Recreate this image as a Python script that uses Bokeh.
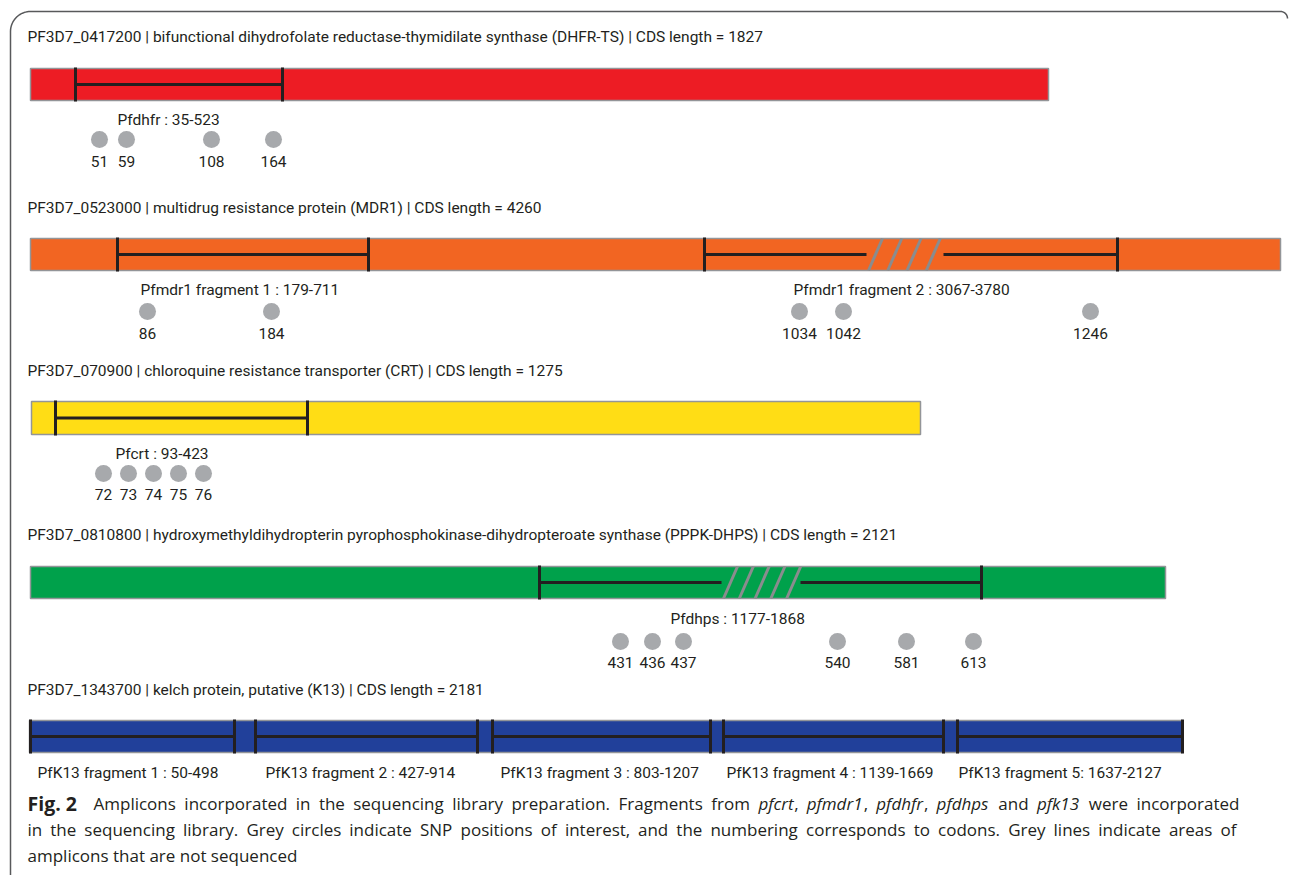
import numpy as np
from bokeh.plotting import figure
from bokeh.models import Range1d
from bokeh.core.properties import value
from bokeh.embed import file_html
from bokeh.resources import INLINE

# ---------------- data ----------------
gene_ids = ["PF3D7_0417200", "PF3D7_0523000", "PF3D7_070900", "PF3D7_0810800", "PF3D7_1343700"]
gene_names = [
    "bifunctional dihydrofolate reductase-thymidilate synthase (DHFR-TS)",
    "multidrug resistance protein (MDR1)",
    "chloroquine resistance transporter (CRT)",
    "hydroxymethyldihydropterin pyrophosphokinase-dihydropteroate synthase (PPPK-DHPS)",
    "kelch protein, putative (K13)",
]
cds_lengths = [1827, 4260, 1275, 2121, 2181]

frag_gene = [0, 1, 1, 2, 3, 4, 4, 4, 4, 4]
frag_names = ["Pfdhfr", "Pfmdr1 fragment 1", "Pfmdr1 fragment 2", "Pfcrt", "Pfdhps",
              "PfK13 fragment 1", "PfK13 fragment 2", "PfK13 fragment 3", "PfK13 fragment 4",
              "PfK13 fragment 5"]
frag_sep = [" : ", " : ", " : ", " : ", " : ", " : ", " : ", " : ", " : ", ": "]
frag_start = [35, 179, 3067, 93, 1177, 50, 427, 803, 1139, 1637]
frag_end = [523, 711, 3780, 423, 1868, 498, 914, 1207, 1669, 2127]
# fragments containing a non-sequenced (grey) stretch
gap_frag = [2, 4]

snp_gene = [0, 0, 0, 0, 1, 1, 1, 1, 1, 2, 2, 2, 2, 2, 3, 3, 3, 3, 3, 3]
snp_codons = [51, 59, 108, 164, 86, 184, 1034, 1042, 1246, 72, 73, 74, 75, 76,
              431, 436, 437, 540, 581, 613]

caption_head = "Fig. 2"
caption_line1 = [[("Amplicons", "normal")], [("incorporated", "normal")], [("in", "normal")],
                 [("the", "normal")], [("sequencing", "normal")], [("library", "normal")],
                 [("preparation.", "normal")], [("Fragments", "normal")], [("from", "normal")],
                 [("pfcrt", "italic"), (",", "normal")], [("pfmdr1", "italic"), (",", "normal")],
                 [("pfdhfr", "italic"), (",", "normal")], [("pfdhps", "italic")], [("and", "normal")],
                 [("pfk13", "italic")], [("were", "normal")], [("incorporated", "normal")]]
caption_line2 = ("in the sequencing library. Grey circles indicate SNP positions of interest, "
                 "and the numbering corresponds to codons. Grey lines indicate areas of")
caption_line3 = "amplicons that are not sequenced"

# ---------------- schematic layout (diagram is not drawn to scale) ----------------
title_y = [36, 207, 370, 534, 689]
bar_top = [68, 238, 401, 566, 720]
bar_bot = [100, 270, 434, 598, 752]
bar_x0 = [30, 30, 31, 30, 29]
bar_x1 = [1048, 1280, 920, 1165, 1182]
frag_x0 = [75, 117, 704, 55, 539, 30, 255, 492, 723, 957]
frag_x1 = [282, 368, 1117, 307, 981, 234, 477, 710, 943, 1182]
frag_label_x = [117, 140, 793, 115, 670, 37, 265, 500, 726, 958]
gap_x0 = [866, 721]
gap_x1 = [943, 800]
gap_n = [4, 5]
label_y = [119, 289, 453, 618, 772]
circle_y = [139, 311, 473, 641]
number_y = [161, 333, 494, 662]
snp_x = [99, 126, 211, 273, 147, 271, 799, 843, 1090, 103, 128, 153, 178, 203,
         620, 652, 683, 837, 906, 973]
caption_y = [803, 829, 855]
caption_x0 = [93, 27, 27]
caption_x1 = [1239, 1236]

bar_colors = ["#ED1C24", "#F26522", "#FFDD15", "#00A14B", "#21409A"]
TXT = "#231F20"
DIAG_FONT = "Roboto"
DIAG_SIZE = "15.5px"
CAP_FONT = "Open Sans"
CAP_PX = 17
CAP_SIZE = f"{CAP_PX}px"

# approximate Open Sans advance widths (units per 2048 em) used to justify the caption
OS_W = {' ': 532, ',': 502, '.': 545, '-': 659, ':': 545,
        'A': 1296, 'F': 1061, 'G': 1481, 'N': 1556, 'P': 1239, 'S': 1126,
        'a': 1139, 'b': 1255, 'c': 975, 'd': 1255, 'e': 1149, 'f': 694, 'g': 1122, 'h': 1257,
        'i': 518, 'j': 518, 'k': 1075, 'l': 518, 'm': 1905, 'n': 1257, 'o': 1237, 'p': 1255,
        'q': 1255, 'r': 836, 's': 977, 't': 723, 'u': 1257, 'v': 1026, 'w': 1593, 'x': 1073,
        'y': 1028, 'z': 977}


def tw(s, style):
    tot = 0.0
    for ch in s:
        w = OS_W.get(ch, 1171)
        if style == "italic" and ch.islower():
            w *= 0.96
        tot += w
    return tot / 2048 * CAP_PX


def justify(words, x0, x1):
    widths = [sum(tw(t, st) for t, st in w) for w in words]
    gap = (x1 - x0 - sum(widths)) / (len(words) - 1)
    out = []
    x = x0
    for w, wd in zip(words, widths):
        xx = x
        for t, st in w:
            out.append((xx, t, st))
            xx += tw(t, st)
        x += wd + gap
    return out


# ---------------- figure ----------------
W, H = 1290, 875
p = figure(width=W, height=H, x_range=Range1d(0, W), y_range=Range1d(H, 0),
           output_backend="svg", toolbar_location=None, min_border=0,
           background_fill_color="white", border_fill_color="white")
p.axis.visible = False
p.grid.visible = False
p.outline_line_color = None

# frame (rounded top corners)
th = np.linspace(0, np.pi / 2, 20)
fx = list(30 - 20 * np.cos(th)) + list(1280 + 7 * np.sin(th))
fy = list(31 - 20 * np.sin(th)) + list(18 - 7 * np.cos(th))
p.line([10] + fx, [880] + fy, line_color="#58595B", line_width=1.5)

# titles
titles = [f"{g} | {n} | CDS length = {l}" for g, n, l in zip(gene_ids, gene_names, cds_lengths)]
p.text(x=[27] * 5, y=title_y, text=titles, text_font=value(DIAG_FONT), text_font_size=DIAG_SIZE,
       text_color=TXT, text_align="left", text_baseline="middle")

# bars
p.quad(left=bar_x0, right=bar_x1, top=bar_top, bottom=bar_bot, fill_color=bar_colors,
       line_color="#939598", line_width=1.5)

# fragment lines
hx, hy = [], []
for i, g in enumerate(frag_gene):
    mid = (bar_top[g] + bar_bot[g]) / 2
    if i in gap_frag:
        k = gap_frag.index(i)
        hx += [[frag_x0[i], gap_x0[k]], [gap_x1[k], frag_x1[i]]]
        hy += [[mid, mid], [mid, mid]]
    else:
        hx.append([frag_x0[i], frag_x1[i]])
        hy.append([mid, mid])
p.multi_line(hx, hy, line_color=TXT, line_width=3)

tx, ty = [], []
for i, g in enumerate(frag_gene):
    for xv in (frag_x0[i], frag_x1[i]):
        tx.append([xv, xv])
        ty.append([bar_top[g] - 1, bar_bot[g] + 1])
p.multi_line(tx, ty, line_color=TXT, line_width=3)

# grey hatch for non-sequenced stretch
sx, sy = [], []
for k, i in enumerate(gap_frag):
    g = frag_gene[i]
    step = (gap_x1[k] - gap_x0[k]) / gap_n[k]
    for j in range(gap_n[k]):
        b = gap_x0[k] + j * step + 2
        sx.append([b, b + 14])
        sy.append([bar_bot[g], bar_top[g]])
p.multi_line(sx, sy, line_color="#8A8C8E", line_width=3)

# fragment labels
frag_labels = [f"{n}{s}{a}-{b}" for n, s, a, b in zip(frag_names, frag_sep, frag_start, frag_end)]
p.text(x=frag_label_x, y=[label_y[g] for g in frag_gene], text=frag_labels,
       text_font=value(DIAG_FONT), text_font_size=DIAG_SIZE, text_color=TXT,
       text_align="left", text_baseline="middle")

# SNP circles and codon numbers
p.scatter(x=snp_x, y=[circle_y[g] for g in snp_gene], marker="circle", size=17,
          fill_color="#A7A9AC", line_color=None)
p.text(x=snp_x, y=[number_y[g] for g in snp_gene], text=[str(c) for c in snp_codons],
       text_font=value(DIAG_FONT), text_font_size=DIAG_SIZE, text_color=TXT,
       text_align="center", text_baseline="middle")

# caption (justified like the source)
p.text(x=[27], y=[caption_y[0]], text=[caption_head], text_font=value(CAP_FONT),
       text_font_size="19.5px", text_font_style="bold", text_color=TXT,
       text_align="left", text_baseline="middle")
segs = [(x, t, s, caption_y[0]) for x, t, s in justify(caption_line1, caption_x0[0], caption_x1[0])]
words2 = [[(w, "normal")] for w in caption_line2.split(" ")]
segs += [(x, t, s, caption_y[1]) for x, t, s in justify(words2, caption_x0[1], caption_x1[1])]
segs.append((caption_x0[2], caption_line3, "normal", caption_y[2]))
for style in ("normal", "italic"):
    sel = [s for s in segs if s[2] == style]
    p.text(x=[s[0] for s in sel], y=[s[3] for s in sel], text=[s[1] for s in sel],
           text_font=value(CAP_FONT), text_font_size=CAP_SIZE, text_font_style=style,
           text_color=TXT, text_align="left", text_baseline="middle")

open("out.html", "w").write(file_html(p, INLINE))
